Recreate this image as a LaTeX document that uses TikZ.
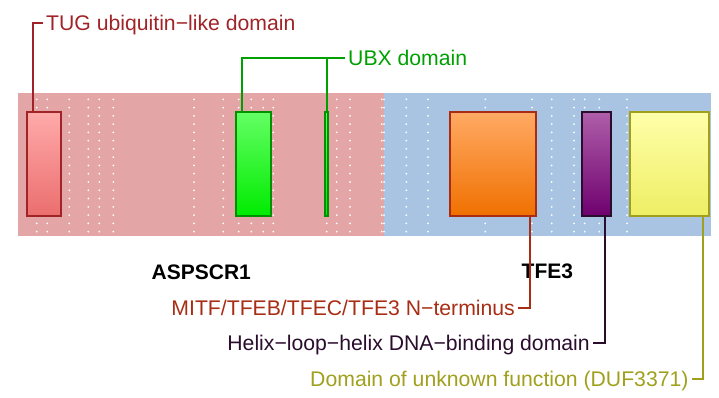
\documentclass[tikz,border=0pt]{standalone}
\usepackage{fontspec}
\setmainfont{Liberation Sans}
\usetikzlibrary{positioning}

\definecolor{bandpink}{RGB}{227,165,165}
\definecolor{bandblue}{RGB}{168,196,226}
\definecolor{tugdark}{RGB}{160,35,40}
\definecolor{ubxdark}{RGB}{0,160,0}
\definecolor{mitfdark}{RGB}{168,45,20}
\definecolor{hlhdark}{RGB}{42,12,45}
\definecolor{dufdark}{RGB}{160,160,30}

\begin{document}
\begin{tikzpicture}[
  x=1pt,y=-1pt,
  dombox/.style={draw,line width=2pt,minimum height=104.6pt,inner sep=0pt},
  lbl/.style={font=\fontsize{21.2}{25}\selectfont,text height=15pt,text depth=0pt,
              inner xsep=3pt,inner ysep=0pt},
  gene/.style={font=\fontsize{21}{25}\selectfont\bfseries,inner sep=0pt,anchor=base west},
  link/.style={line width=2pt}
]
\useasboundingbox (0,0) rectangle (719,397);

% protein bands
\fill[bandpink] (18,93) rectangle (384,235.7);
\fill[bandblue] (384,93) rectangle (711,235.7);

% dotted guides
\foreach \x in {36.7,47.3,69.3,88.3,99.3,113.3,194,223.3,238.7,251.3,263.3,273.3,
                326.7,336.7,350,381.7,384,406.3,428,485.3,532,551.7,574,584.7,599.3,627}
  \foreach \k in {0,...,16}
    \fill[white] (\x,{99.3+8.27*\k}) circle[radius=1pt];

% domains
\node[dombox,draw=tugdark,top color={rgb,255:red,255;green,170;blue,170},
      bottom color={rgb,255:red,235;green,110;blue,110},minimum width=33.7pt] (tug) at (43.85,164) {};
\node[dombox,draw=ubxdark!90!black,top color={rgb,255:red,100;green,255;blue,100},
      bottom color={rgb,255:red,0;green,235;blue,0},minimum width=35pt] (ubxa) at (253.2,164) {};
\node[dombox,draw=ubxdark!90!black,top color={rgb,255:red,100;green,255;blue,100},
      bottom color={rgb,255:red,0;green,235;blue,0},minimum width=3.6pt] (ubxb) at (326.5,164) {};
\node[dombox,draw=mitfdark,top color={rgb,255:red,255;green,170;blue,100},
      bottom color={rgb,255:red,240;green,112;blue,0},minimum width=85.4pt] (mitf) at (493,164) {};
\node[dombox,draw=hlhdark,top color={rgb,255:red,175;green,95;blue,170},
      bottom color={rgb,255:red,110;green,0;blue,110},minimum width=29pt] (hlh) at (596.8,164) {};
\node[dombox,draw=dufdark,top color={rgb,255:red,255;green,255;blue,170},
      bottom color={rgb,255:red,238;green,238;blue,100},minimum width=79.3pt] (duf) at (669.65,164) {};

% gene names
\node[gene] (aspscr) at (151.5,279) {ASPSCR1};
\node[gene] (tfe) at (521.5,278) {TFE3};

% domain labels
\node[lbl,anchor=west,text=tugdark] (tuglbl) at (43,22.6) {TUG ubiquitin−like domain};
\node[lbl,anchor=west,text=ubxdark] (ubxlbl) at (345,58) {UBX domain};
\node[lbl,anchor=east,text=mitfdark] (mitflbl) at (518,308) {MITF/TFEB/TFEC/TFE3 N−terminus};
\node[lbl,anchor=east,text=hlhdark] (hlhlbl) at (593,342.7) {Helix−loop−helix DNA−binding domain};
\node[lbl,anchor=east,text=dufdark] (duflbl) at (691.7,379) {Domain of unknown function (DUF3371)};

% connectors
\draw[link,tugdark] ([xshift=6.5pt]tug.north west) |- (tuglbl.west);
\draw[link,ubxdark] ([xshift=7pt]ubxa.north west) |- (ubxlbl.west);
\draw[link,ubxdark] (ubxb.north) -- (ubxb.north |- ubxlbl.west);
\draw[link,mitfdark] ([xshift=-7pt]mitf.south east) |- (mitflbl.east);
\draw[link,hlhdark] ([xshift=-7pt]hlh.south east) |- (hlhlbl.east);
\draw[link,dufdark] ([xshift=-7pt]duf.south east) |- (duflbl.east);
\end{tikzpicture}
\end{document}
